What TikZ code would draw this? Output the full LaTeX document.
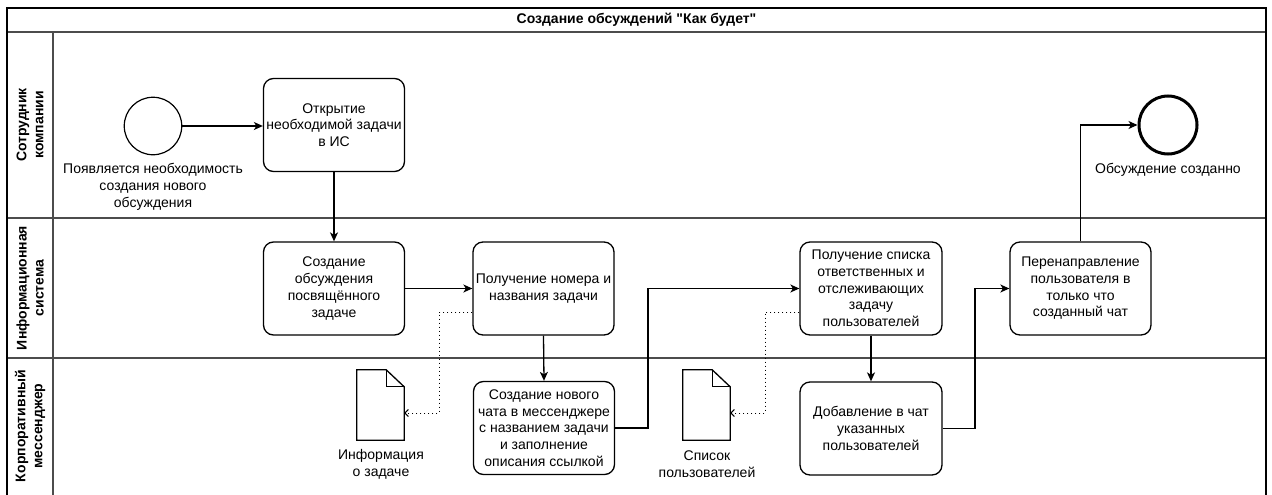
\documentclass[tikz,border=0pt]{standalone}
\usepackage{fontspec}
\setmainfont{Liberation Sans}
\newfontfamily\titlefont{Liberation Sans}
\usetikzlibrary{arrows.meta,calc}
\begin{document}
\begin{tikzpicture}[x=1pt,y=-1pt,
  font=\fontsize{14pt}{16.7pt}\selectfont,
  task/.style={draw, rounded corners=10pt, line width=1.3pt, minimum width=141pt, minimum height=93pt, align=center, inner sep=0pt},
  startev/.style={draw, circle, line width=1.2pt, minimum size=57.5pt, inner sep=0pt},
  endev/.style={draw, circle, line width=3pt, minimum size=58pt, inner sep=0pt},
  lbl/.style={align=center, inner sep=0pt},
  flow/.style={line width=1.3pt, -{Stealth[length=9pt,width=8pt,inset=2.5pt]}},
  assoc/.style={line width=1pt, dash pattern=on 1pt off 3pt, -{Straight Barb[length=3.5pt,width=7pt]}},
  docline/.style={line width=1.3pt, line join=miter},
  docarea/.style={minimum width=47pt, minimum height=70pt, inner sep=0pt},
  lane/.style={line width=1.3pt, draw=black!70},
  outer/.style={line width=1.6pt},
  hdr/.style={font=\bfseries\fontsize{14pt}{17pt}\selectfont, align=center, rotate=90, inner sep=0pt},
]
\useasboundingbox (0,0) rectangle (1272,495);

% pool and lanes
\draw[lane] (7,32) -- (1266,32);
\draw[lane] (53,32) -- (53,498);
\draw[lane] (7,218) -- (1266,218);
\draw[lane] (7,358) -- (1266,358);
\draw[outer] (7,498) -- (7,8) -- (1266,8) -- (1266,498);

\node[font=\titlefont\bfseries\fontsize{14pt}{17pt}\selectfont] (title) at (636.5,20) {Создание обсуждений "Как будет"};
\node[hdr] (h1) at (30,125) {Сотрудник\\компании};
\node[hdr] (h2) at (30,288) {Информационная\\система};
\node[hdr] (h3) at (30,426) {Корпоративный\\мессенджер};

% events
\node[startev] (start) at (153,126) {};
\node[lbl] (startlbl) at (153,187) {Появляется необходимость\\создания нового\\обсуждения};
\node[endev] (end) at (1168,125) {};
\node[lbl] (endlbl) at (1168,170) {Обсуждение созданно};

% tasks
\node[task] (open) at (334,125) {Открытие\\необходимой задачи\\в ИС};
\node[task] (creat) at (334,288.5) {Создание\\обсуждения\\посвящённого\\задаче};
\node[task] (getnum) at (543.5,288.5) {Получение номера и\\названия задачи};
\node[task] (newchat) at (544,428) {Создание нового\\чата в мессенджере\\с названием задачи\\и заполнение\\описания ссылкой};
\node[task, minimum width=142pt] (getlist) at (871,288.5) {Получение списка\\ответственных и\\отслеживающих\\задачу\\пользователей};
\node[task, minimum width=142pt] (add) at (871,428.5) {Добавление в чат\\указанных\\пользователей};
\node[task] (redir) at (1080.5,288.5) {Перенаправление\\пользователя в\\только что\\созданный чат};

% data objects
\node[docarea] (doc1) at (380.5,405) {};
\draw[docline] (doc1.north west) -- ([xshift=-18pt]doc1.north east) -- ([yshift=-17pt]doc1.north east) -- (doc1.south east) -- (doc1.south west) -- cycle;
\draw[docline] ([xshift=-18pt]doc1.north east) |- ([yshift=-17pt]doc1.north east);
\node[lbl] (doc1lbl) at (381,464) {Информация\\о задаче};

\node[docarea] (doc2) at (706.5,405) {};
\draw[docline] (doc2.north west) -- ([xshift=-18pt]doc2.north east) -- ([yshift=-17pt]doc2.north east) -- (doc2.south east) -- (doc2.south west) -- cycle;
\draw[docline] ([xshift=-18pt]doc2.north east) |- ([yshift=-17pt]doc2.north east);
\node[lbl] (doc2lbl) at (707,464) {Список\\пользователей};

% sequence flows
\draw[flow] (start.east) -- (start.east -| open.west);
\draw[flow] (open.south) -- (creat.north);
\draw[flow] (creat.east) -- (getnum.west);
\draw[flow] (getnum.south) -- (newchat.north);
\draw[flow] (newchat.east) -- (648,428) |- (getlist.west);
\draw[flow] (getlist.south) -- (add.north);
\draw[flow] (add.east) -- (975,428.5) |- (redir.west);
\draw[flow] (redir.north) |- (end.west);

% associations
\draw[assoc] ($(getnum.west)+(0,23.5)$) -- (439,312) -- (439,413) -- ($(doc1.east)+(0,8)$);
\draw[assoc] ($(getlist.west)+(0,23.5)$) -- (765,312) -- (765,413) -- ($(doc2.east)+(0,8)$);
\end{tikzpicture}
\end{document}
